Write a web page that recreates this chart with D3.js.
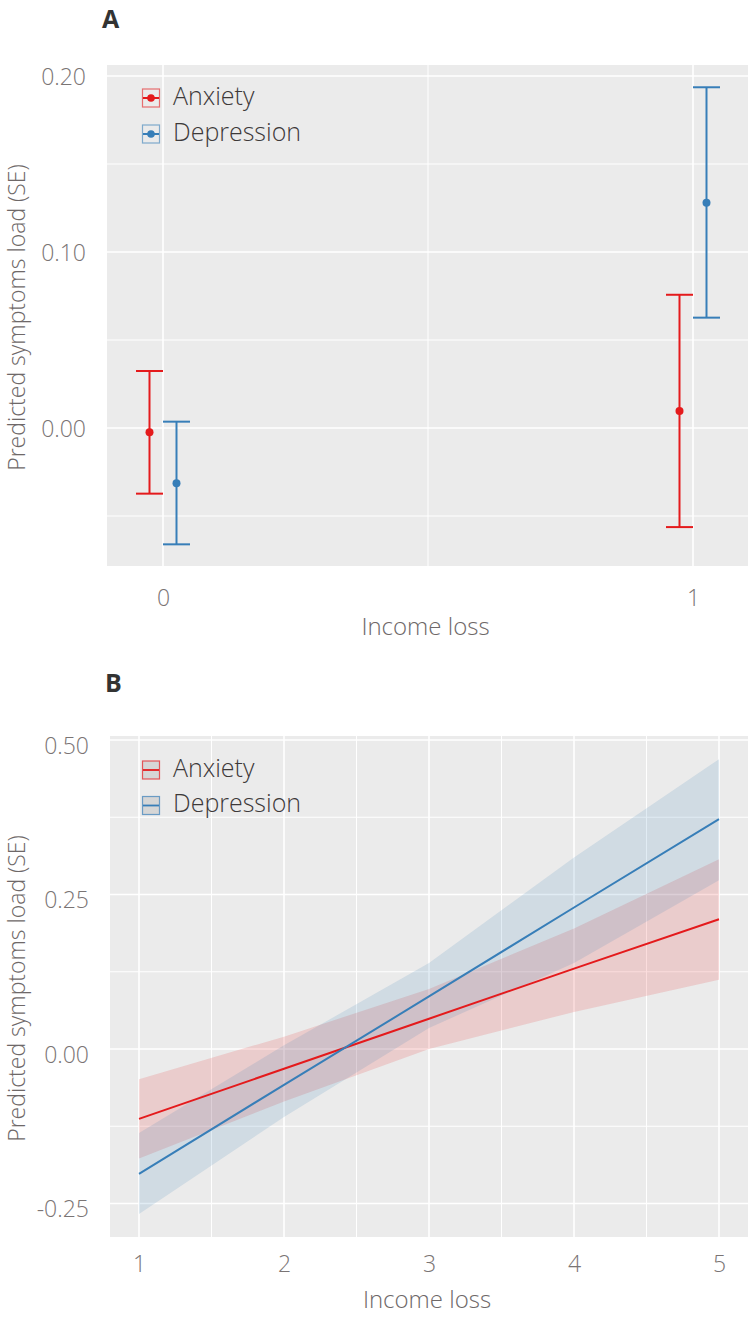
<!DOCTYPE html>
<html>
<head>
<meta charset="utf-8">
<script src="https://cdn.jsdelivr.net/npm/d3@7"></script>
<style>
  html, body { margin: 0; padding: 0; background: #fff; }
  svg { display: block; font-family: "Open Sans", "Noto Sans", sans-serif; }
</style>
</head>
<body>
<div id="chart"></div>
<script>
// ---------- Data: panel A (error bars) ----------
const seriesNames = ["Anxiety", "Depression"];
const seriesColors = ["#E41A1C", "#377EB8"];
const incomeA = [0, 1];
const anxietyEstA = [-0.0024, 0.0097];
const anxietyLowA = [-0.0373, -0.0563];
const anxietyHighA = [0.0324, 0.0757];
const depressionEstA = [-0.0314, 0.128];
const depressionLowA = [-0.0661, 0.0627];
const depressionHighA = [0.0036, 0.1936];
const xTicksA = [0, 1];
const yTicksA = [0.00, 0.10, 0.20];
const yMinorA = [-0.05, 0.05, 0.15];
const xMinorA = [0.5];

// ---------- Data: panel B (lines + ribbons) ----------
const incomeB = [1, 2, 3, 4, 5];
const anxietyEstB = [-0.113, -0.032, 0.049, 0.130, 0.210];
const anxietyLowB = [-0.177, -0.085, 0.000, 0.060, 0.112];
const anxietyHighB = [-0.049, 0.020, 0.097, 0.195, 0.307];
const depressionEstB = [-0.202, -0.058, 0.085, 0.229, 0.372];
const depressionLowB = [-0.267, -0.110, 0.034, 0.139, 0.273];
const depressionHighB = [-0.136, 0.006, 0.139, 0.310, 0.469];
const xTicksB = [1, 2, 3, 4, 5];
const xMinorB = [1.5, 2.5, 3.5, 4.5];
const yTicksB = [-0.25, 0.00, 0.25, 0.50];
const yMinorB = [-0.125, 0.125, 0.375];

const W = 750, H = 1317;
const svg = d3.select("#chart").append("svg").attr("width", W).attr("height", H);

const bg = "#EBEBEB";
const tickColor = "#7a7474";
const titleColor = "#6e6868";
const legendColor = "#3d3939";
const lightWeight = 300;

function panel(cfg) {
  const g = svg.append("g");
  const { x, y, box } = cfg;
  g.append("rect").attr("x", box.l).attr("y", box.t)
    .attr("width", box.r - box.l).attr("height", box.b - box.t).attr("fill", bg);
  // minor grid
  g.selectAll(".ymin").data(cfg.yMinor).join("line")
    .attr("x1", box.l).attr("x2", box.r).attr("y1", d => y(d)).attr("y2", d => y(d))
    .attr("stroke", "#fff").attr("stroke-width", 1);
  g.selectAll(".xmin").data(cfg.xMinor).join("line")
    .attr("y1", box.t).attr("y2", box.b).attr("x1", d => x(d)).attr("x2", d => x(d))
    .attr("stroke", "#fff").attr("stroke-width", 1);
  // major grid
  g.selectAll(".ymaj").data(cfg.yTicks).join("line")
    .attr("x1", box.l).attr("x2", box.r).attr("y1", d => y(d)).attr("y2", d => y(d))
    .attr("stroke", "#fff").attr("stroke-width", 1.6);
  g.selectAll(".xmaj").data(cfg.xTicks).join("line")
    .attr("y1", box.t).attr("y2", box.b).attr("x1", d => x(d)).attr("x2", d => x(d))
    .attr("stroke", "#fff").attr("stroke-width", 1.6);

  // y axis labels
  const yAxis = d3.axisLeft(y).tickValues(cfg.yTicks).tickSize(0).tickPadding(0)
    .tickFormat(d => (d < 0 ? "-" : "") + d3.format(".2f")(Math.abs(d)));
  const ya = g.append("g").attr("transform", `translate(${box.l - 21},0)`).call(yAxis);
  ya.select(".domain").remove();
  ya.selectAll("text").attr("font-size", 23).attr("font-weight", lightWeight).attr("fill", tickColor)
    .attr("font-family", "Open Sans").attr("dy", `${cfg.yLabelShift}px`)
    .attr("dominant-baseline", "middle").attr("y", 0);

  // x axis labels
  const xAxis = d3.axisBottom(x).tickValues(cfg.xTicks).tickSize(0).tickPadding(0)
    .tickFormat(d3.format("d"));
  const xa = g.append("g").attr("transform", `translate(0,${box.b + cfg.xTickGap})`).call(xAxis);
  xa.select(".domain").remove();
  xa.selectAll("text").attr("font-size", 23).attr("font-weight", lightWeight).attr("fill", tickColor)
    .attr("font-family", "Open Sans").attr("dy", 0);

  // titles
  g.append("text").attr("x", (box.l + box.r) / 2 - 2).attr("y", box.b + cfg.xTitleGap)
    .attr("text-anchor", "middle").attr("font-size", 24).attr("font-weight", lightWeight)
    .attr("fill", titleColor).text("Income loss");
  g.append("text")
    .attr("transform", `translate(24.5,${(box.t + box.b) / 2 + 2}) rotate(-90)`)
    .attr("text-anchor", "middle").attr("font-size", 23).attr("font-weight", lightWeight)
    .attr("fill", titleColor).text("Predicted symptoms load (SE)");
  g.append("text").attr("x", box.l - 5).attr("y", box.t - cfg.letterGap)
    .attr("font-size", 25).attr("font-weight", 700).attr("fill", "#333")
    .text(cfg.letter);
  return g;
}

// ---------------- Panel A ----------------
const boxA = { l: 107, r: 748, t: 65, b: 566 };
const xA = d3.scaleLinear().domain([0, 1]).range([163, 693]);
const yA = d3.scaleLinear().domain([0, 0.2]).range([428, 76]);
const gA = panel({ x: xA, y: yA, box: boxA, xTicks: xTicksA, yTicks: yTicksA,
  xMinor: xMinorA, yMinor: yMinorA, letter: "A", letterGap: 37, yLabelShift: 2,
  xTickGap: 40, xTitleGap: 69 });

const dodge = 13.5, capHalf = 13.5;
const seriesA = [
  { est: anxietyEstA, lo: anxietyLowA, hi: anxietyHighA, off: -dodge, color: seriesColors[0] },
  { est: depressionEstA, lo: depressionLowA, hi: depressionHighA, off: dodge, color: seriesColors[1] }
];
seriesA.forEach(s => {
  const pts = incomeA.map((xv, i) => ({ x: xA(xv) + s.off, e: s.est[i], l: s.lo[i], h: s.hi[i] }));
  const gg = gA.append("g").attr("stroke", s.color).attr("stroke-width", 2).attr("fill", s.color);
  gg.selectAll(".v").data(pts).join("line")
    .attr("x1", d => d.x).attr("x2", d => d.x).attr("y1", d => yA(d.l)).attr("y2", d => yA(d.h));
  gg.selectAll(".ct").data(pts).join("line")
    .attr("x1", d => d.x - capHalf).attr("x2", d => d.x + capHalf)
    .attr("y1", d => yA(d.h)).attr("y2", d => yA(d.h));
  gg.selectAll(".cb").data(pts).join("line")
    .attr("x1", d => d.x - capHalf).attr("x2", d => d.x + capHalf)
    .attr("y1", d => yA(d.l)).attr("y2", d => yA(d.l));
  gg.selectAll("circle").data(pts).join("circle")
    .attr("cx", d => d.x).attr("cy", d => yA(d.e)).attr("r", 4).attr("stroke", "none");
});

// legend A
seriesNames.forEach((name, i) => {
  const cy = 98 + i * 36;
  const lg = gA.append("g");
  lg.append("rect").attr("x", 142.5).attr("y", cy - 9).attr("width", 17).attr("height", 18)
    .attr("fill", bg).attr("stroke", seriesColors[i]).attr("stroke-opacity", 0.6).attr("stroke-width", 1.2);
  lg.append("line").attr("x1", 143).attr("x2", 159).attr("y1", cy).attr("y2", cy)
    .attr("stroke", seriesColors[i]).attr("stroke-width", 2);
  lg.append("circle").attr("cx", 151).attr("cy", cy).attr("r", 3.8).attr("fill", seriesColors[i]);
  lg.append("text").attr("x", 173).attr("y", cy).attr("dominant-baseline", "middle")
    .attr("font-size", 25).attr("font-weight", lightWeight).attr("fill", legendColor).text(name);
});

// ---------------- Panel B ----------------
const boxB = { l: 110, r: 748, t: 736, b: 1237 };
const xB = d3.scaleLinear().domain([1, 5]).range([139, 719]);
const yB = d3.scaleLinear().domain([-0.25, 0.5]).range([1203.5, 740]);
const gB = panel({ x: xB, y: yB, box: boxB, xTicks: xTicksB, yTicks: yTicksB,
  xMinor: xMinorB, yMinor: yMinorB, letter: "B", letterGap: 44, yLabelShift: 7,
  xTickGap: 35, xTitleGap: 71 });

const seriesB = [
  { est: anxietyEstB, lo: anxietyLowB, hi: anxietyHighB, color: seriesColors[0] },
  { est: depressionEstB, lo: depressionLowB, hi: depressionHighB, color: seriesColors[1] }
];
const area = d3.area().x(d => xB(d.x)).y0(d => yB(d.l)).y1(d => yB(d.h));
const line = d3.line().x(d => xB(d.x)).y(d => yB(d.e));
const bData = seriesB.map(s => incomeB.map((xv, i) => ({ x: xv, e: s.est[i], l: s.lo[i], h: s.hi[i] })));
seriesB.forEach((s, k) => {
  gB.append("path").datum(bData[k]).attr("d", area).attr("fill", s.color).attr("fill-opacity", 0.15);
});
seriesB.forEach((s, k) => {
  gB.append("path").datum(bData[k]).attr("d", line).attr("fill", "none")
    .attr("stroke", s.color).attr("stroke-width", 2);
});

// legend B
seriesNames.forEach((name, i) => {
  const cy = 770 + i * 35.5;
  const lg = gB.append("g");
  lg.append("rect").attr("x", 142.5).attr("y", cy - 9).attr("width", 17).attr("height", 18)
    .attr("fill", "#d6d6d6").attr("stroke", seriesColors[i]).attr("stroke-opacity", 0.7).attr("stroke-width", 1.2);
  lg.append("line").attr("x1", 143).attr("x2", 159).attr("y1", cy).attr("y2", cy)
    .attr("stroke", seriesColors[i]).attr("stroke-width", 1.8);
  lg.append("text").attr("x", 173).attr("y", cy).attr("dominant-baseline", "middle")
    .attr("font-size", 25).attr("font-weight", lightWeight).attr("fill", legendColor).text(name);
});
</script>
</body>
</html>
